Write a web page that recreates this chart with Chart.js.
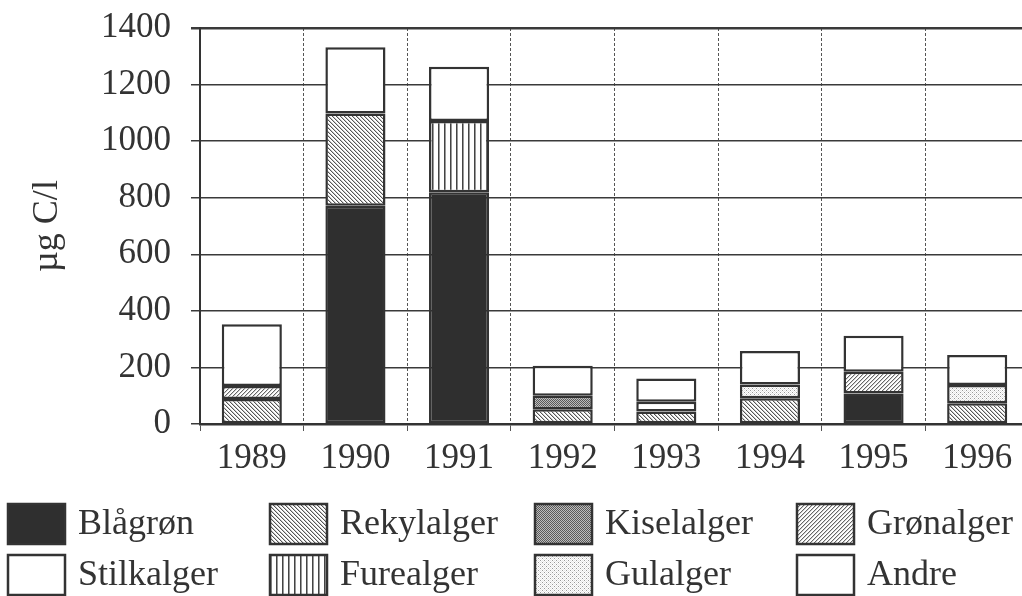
<!DOCTYPE html>
<html>
<head>
<meta charset="utf-8">
<script src="https://cdn.jsdelivr.net/npm/chart.js@4/dist/chart.umd.min.js"></script>
<style>
  html, body { margin: 0; padding: 0; background: #fff; overflow: hidden; }
  #chart { display: block; }
</style>
</head>
<body>
<canvas id="chart" width="1032" height="596"></canvas>
<script>
// Biomasse per år, stablet etter algegruppe (µg C/l)
const years = ['1989', '1990', '1991', '1992', '1993', '1994', '1995', '1996'];
const blagron    = [null, 772, 819, null, null, null, 108, null];
const rekylalger = [88, 326, null, 52, 44, 91, null, 73];
const kiselalger = [null, null, null, 48, null, null, null, null];
const gronalger  = [46, null, null, null, null, null, 77, null];
const stilkalger = [null, null, null, null, 35, null, null, null];
const furealger  = [null, null, 252, null, null, null, null, null];
const gulalger   = [null, null, null, null, null, 49, null, 65];
const andre      = [219, 234, 192, 106, 82, 118, 127, 106];
const yTicks = [0, 200, 400, 600, 800, 1000, 1200, 1400];

const FONT = '"Liberation Serif", "Times New Roman", serif';
const INK = '#333';

const canvas = document.getElementById('chart');
const ctx = canvas.getContext('2d');

// small tiles used as fill patterns
function makePattern(size, draw) {
    const c = document.createElement('canvas');
    c.width = c.height = size;
    const g = c.getContext('2d');
    g.fillStyle = '#fff';
    g.fillRect(0, 0, size, size);
    for (let y = 0; y < size; y++) {
        for (let x = 0; x < size; x++) {
            const col = draw(x, y);
            if (col) {
                g.fillStyle = col;
                g.fillRect(x, y, 1, 1);
            }
        }
    }
    return ctx.createPattern(c, 'repeat');
}

const fills = {
    blagron: '#2f2f2f',
    rekyl: makePattern(4, (x, y) => ((x - y + 8) % 4 === 0 ? '#555' : ((x - y + 8) % 4 === 1 ? '#c8c8c8' : null))),
    kisel: makePattern(2, (x, y) => ((x + y) % 2 === 0 ? '#5a5a5a' : '#bdbdbd')),
    gron: makePattern(4, (x, y) => ((x + y) % 4 === 0 ? '#666' : ((x + y) % 4 === 1 ? '#d0d0d0' : null))),
    stilk: '#fff',
    fure: makePattern(6, (x, y) => (x === 0 ? '#444' : (x === 1 ? '#999' : null))),
    gul: makePattern(4, (x, y) => ((x === 0 && y === 0) || (x === 2 && y === 2) ? '#999' : ((x + y) % 2 === 0 ? '#e6e6e6' : null))),
    andre: '#fff'
};

function series(label, data, fill) {
    return {
        label: label,
        data: data,
        backgroundColor: fill,
        borderColor: INK,
        borderWidth: 2.5,
        borderSkipped: false,
        barPercentage: 0.58,
        categoryPercentage: 1
    };
}

// legend drawn in a fixed 4 x 2 grid under the plot
const gridLegend = {
    id: 'gridLegend',
    afterDraw(chart) {
        const c = chart.ctx;
        const cols = [8, 270, 535, 797];
        const rows = [504, 555];
        c.save();
        c.font = '36px ' + FONT;
        c.textBaseline = 'middle';
        chart.data.datasets.forEach((ds, i) => {
            const x = cols[i % 4];
            const y = rows[Math.floor(i / 4)];
            c.fillStyle = ds.backgroundColor;
            c.fillRect(x, y, 57, 40);
            c.lineWidth = 2.5;
            c.strokeStyle = INK;
            c.strokeRect(x, y, 57, 40);
            c.fillStyle = INK;
            c.fillText(ds.label, x + 70, y + 21);
        });
        c.restore();
    }
};

new Chart(ctx, {
    type: 'bar',
    data: {
        labels: years,
        datasets: [
            series('Blågrøn', blagron, fills.blagron),
            series('Rekylalger', rekylalger, fills.rekyl),
            series('Kiselalger', kiselalger, fills.kisel),
            series('Grønalger', gronalger, fills.gron),
            series('Stilkalger', stilkalger, fills.stilk),
            series('Furealger', furealger, fills.fure),
            series('Gulalger', gulalger, fills.gul),
            series('Andre', andre, fills.andre)
        ]
    },
    options: {
        responsive: false,
        animation: false,
        layout: { padding: { top: 28, right: 3, bottom: 100, left: 0 } },
        plugins: {
            legend: { display: false },
            tooltip: { enabled: false }
        },
        scales: {
            x: {
                stacked: true,
                afterFit: s => { s.height = 72; },
                grid: {
                    color: '#555',
                    lineWidth: 1,
                    tickLength: 7,
                    offset: true
                },
                border: { color: INK, width: 2.5, dash: [3, 2] },
                ticks: {
                    color: INK,
                    padding: 7,
                    font: { family: FONT, size: 35 }
                }
            },
            y: {
                stacked: true,
                min: 0,
                max: 1400,
                afterFit: s => {
                    s.width = 200;
                    s.paddingTop = 0;
                    s.paddingBottom = 0;
                },
                afterBuildTicks: s => { s.ticks = yTicks.map(v => ({ value: v })); },
                grid: {
                    color: '#3a3a3a',
                    lineWidth: c => (c.tick && c.tick.value === 1400 ? 2.5 : 1.5),
                    tickLength: 9
                },
                border: { color: INK, width: 2 },
                ticks: {
                    color: INK,
                    padding: 20,
                    font: { family: FONT, size: 35 },
                    callback: v => String(v)
                },
                title: {
                    display: true,
                    text: 'µg C/l',
                    color: INK,
                    padding: { top: 26, bottom: 0 },
                    font: { family: FONT, size: 36 }
                }
            }
        }
    },
    plugins: [gridLegend]
});
</script>
</body>
</html>
